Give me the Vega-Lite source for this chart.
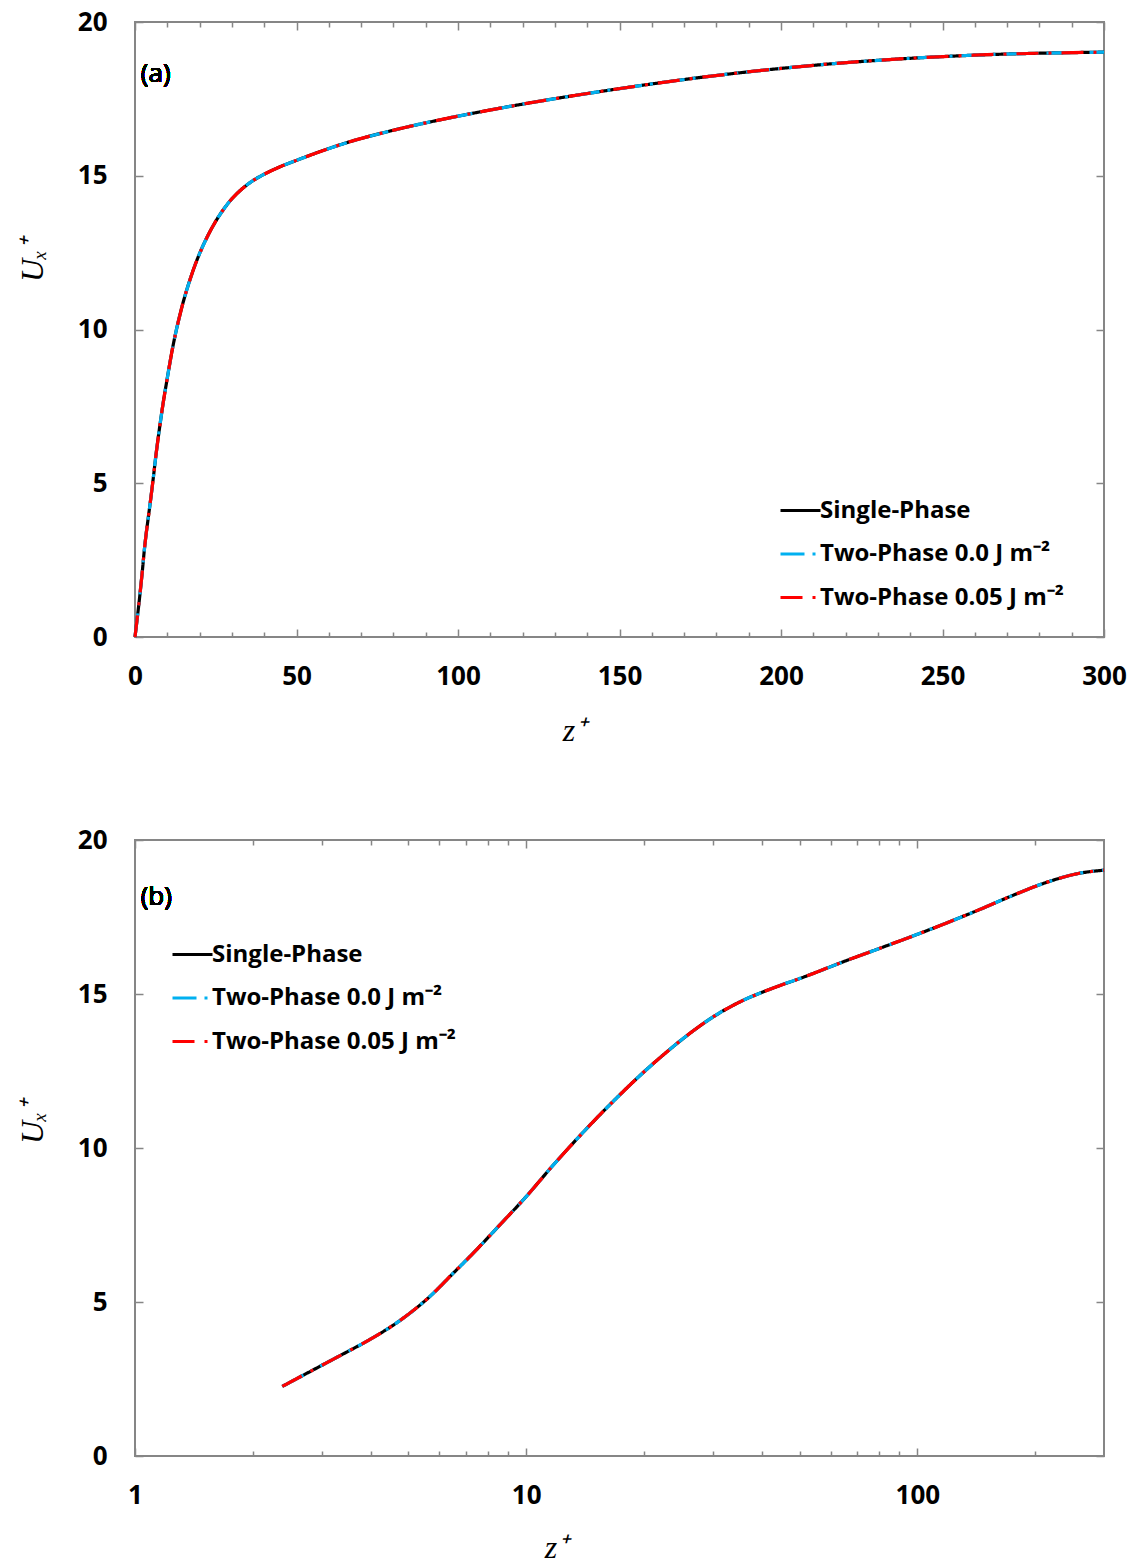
{
  "$schema": "https://vega.github.io/schema/vega-lite/v6.json",
  "background": "white",
  "padding": {"left": 15, "top": 8, "right": 0, "bottom": 0},
  "spacing": 79,
  "resolve": {
    "scale": {"color": "independent", "strokeDash": "independent"},
    "legend": {"color": "independent", "strokeDash": "independent"}
  },
  "config": {
    "view": {"stroke": "#868686", "strokeWidth": 2},
    "axis": {
      "domain": false, "grid": false, "labelFlush": false,
      "tickColor": "#868686", "tickWidth": 1.5,
      "labelFont": "Open Sans", "labelFontWeight": "bold", "labelFontSize": 26, "labelColor": "#000000",
      "titleFont": "Liberation Serif", "titleFontStyle": "italic", "titleFontWeight": "normal", "titleFontSize": 32, "titleColor": "#000000"
    },
    "legend": {
      "labelFont": "Open Sans", "labelFontWeight": "bold", "labelFontSize": 24, "labelColor": "#000000",
      "symbolType": "stroke", "symbolSize": 1600, "symbolStrokeWidth": 3, "rowPadding": 9.5, "labelOffset": -2, "labelLimit": 400
    }
  },
  "datasets": {
    "prof": [
      {"s": "Single-Phase", "z": 0, "u": 0},
      {"s": "Single-Phase", "z": 2.38, "u": 2.26},
      {"s": "Single-Phase", "z": 2.84, "u": 2.78},
      {"s": "Single-Phase", "z": 3.46, "u": 3.36},
      {"s": "Single-Phase", "z": 3.97, "u": 3.77},
      {"s": "Single-Phase", "z": 4.83, "u": 4.46},
      {"s": "Single-Phase", "z": 5.65, "u": 5.16},
      {"s": "Single-Phase", "z": 6.48, "u": 5.91},
      {"s": "Single-Phase", "z": 7.43, "u": 6.67},
      {"s": "Single-Phase", "z": 8.53, "u": 7.48},
      {"s": "Single-Phase", "z": 9.98, "u": 8.41},
      {"s": "Single-Phase", "z": 11.68, "u": 9.42},
      {"s": "Single-Phase", "z": 14.2, "u": 10.6},
      {"s": "Single-Phase", "z": 17.3, "u": 11.71},
      {"s": "Single-Phase", "z": 19.8, "u": 12.42},
      {"s": "Single-Phase", "z": 22.3, "u": 13.0},
      {"s": "Single-Phase", "z": 25, "u": 13.52},
      {"s": "Single-Phase", "z": 27.5, "u": 13.92},
      {"s": "Single-Phase", "z": 30, "u": 14.25},
      {"s": "Single-Phase", "z": 33, "u": 14.56},
      {"s": "Single-Phase", "z": 36.5, "u": 14.84},
      {"s": "Single-Phase", "z": 40, "u": 15.05},
      {"s": "Single-Phase", "z": 44.4, "u": 15.27},
      {"s": "Single-Phase", "z": 50, "u": 15.5},
      {"s": "Single-Phase", "z": 54, "u": 15.66},
      {"s": "Single-Phase", "z": 65.7, "u": 16.08},
      {"s": "Single-Phase", "z": 80, "u": 16.48},
      {"s": "Single-Phase", "z": 97.3, "u": 16.88},
      {"s": "Single-Phase", "z": 118.4, "u": 17.3},
      {"s": "Single-Phase", "z": 144.1, "u": 17.74},
      {"s": "Single-Phase", "z": 175.3, "u": 18.2},
      {"s": "Single-Phase", "z": 213.3, "u": 18.62},
      {"s": "Single-Phase", "z": 259.6, "u": 18.92},
      {"s": "Single-Phase", "z": 300, "u": 19.02},
      {"s": "Two-Phase 0.0 J m⁻²", "z": 0, "u": 0},
      {"s": "Two-Phase 0.0 J m⁻²", "z": 2.38, "u": 2.26},
      {"s": "Two-Phase 0.0 J m⁻²", "z": 2.84, "u": 2.78},
      {"s": "Two-Phase 0.0 J m⁻²", "z": 3.46, "u": 3.36},
      {"s": "Two-Phase 0.0 J m⁻²", "z": 3.97, "u": 3.77},
      {"s": "Two-Phase 0.0 J m⁻²", "z": 4.83, "u": 4.46},
      {"s": "Two-Phase 0.0 J m⁻²", "z": 5.65, "u": 5.16},
      {"s": "Two-Phase 0.0 J m⁻²", "z": 6.48, "u": 5.91},
      {"s": "Two-Phase 0.0 J m⁻²", "z": 7.43, "u": 6.67},
      {"s": "Two-Phase 0.0 J m⁻²", "z": 8.53, "u": 7.48},
      {"s": "Two-Phase 0.0 J m⁻²", "z": 9.98, "u": 8.41},
      {"s": "Two-Phase 0.0 J m⁻²", "z": 11.68, "u": 9.42},
      {"s": "Two-Phase 0.0 J m⁻²", "z": 14.2, "u": 10.6},
      {"s": "Two-Phase 0.0 J m⁻²", "z": 17.3, "u": 11.71},
      {"s": "Two-Phase 0.0 J m⁻²", "z": 19.8, "u": 12.42},
      {"s": "Two-Phase 0.0 J m⁻²", "z": 22.3, "u": 13.0},
      {"s": "Two-Phase 0.0 J m⁻²", "z": 25, "u": 13.52},
      {"s": "Two-Phase 0.0 J m⁻²", "z": 27.5, "u": 13.92},
      {"s": "Two-Phase 0.0 J m⁻²", "z": 30, "u": 14.25},
      {"s": "Two-Phase 0.0 J m⁻²", "z": 33, "u": 14.56},
      {"s": "Two-Phase 0.0 J m⁻²", "z": 36.5, "u": 14.84},
      {"s": "Two-Phase 0.0 J m⁻²", "z": 40, "u": 15.05},
      {"s": "Two-Phase 0.0 J m⁻²", "z": 44.4, "u": 15.27},
      {"s": "Two-Phase 0.0 J m⁻²", "z": 50, "u": 15.5},
      {"s": "Two-Phase 0.0 J m⁻²", "z": 54, "u": 15.66},
      {"s": "Two-Phase 0.0 J m⁻²", "z": 65.7, "u": 16.08},
      {"s": "Two-Phase 0.0 J m⁻²", "z": 80, "u": 16.48},
      {"s": "Two-Phase 0.0 J m⁻²", "z": 97.3, "u": 16.88},
      {"s": "Two-Phase 0.0 J m⁻²", "z": 118.4, "u": 17.3},
      {"s": "Two-Phase 0.0 J m⁻²", "z": 144.1, "u": 17.74},
      {"s": "Two-Phase 0.0 J m⁻²", "z": 175.3, "u": 18.2},
      {"s": "Two-Phase 0.0 J m⁻²", "z": 213.3, "u": 18.62},
      {"s": "Two-Phase 0.0 J m⁻²", "z": 259.6, "u": 18.92},
      {"s": "Two-Phase 0.0 J m⁻²", "z": 300, "u": 19.02},
      {"s": "Two-Phase 0.05 J m⁻²", "z": 0, "u": 0},
      {"s": "Two-Phase 0.05 J m⁻²", "z": 2.38, "u": 2.26},
      {"s": "Two-Phase 0.05 J m⁻²", "z": 2.84, "u": 2.78},
      {"s": "Two-Phase 0.05 J m⁻²", "z": 3.46, "u": 3.36},
      {"s": "Two-Phase 0.05 J m⁻²", "z": 3.97, "u": 3.77},
      {"s": "Two-Phase 0.05 J m⁻²", "z": 4.83, "u": 4.46},
      {"s": "Two-Phase 0.05 J m⁻²", "z": 5.65, "u": 5.16},
      {"s": "Two-Phase 0.05 J m⁻²", "z": 6.48, "u": 5.91},
      {"s": "Two-Phase 0.05 J m⁻²", "z": 7.43, "u": 6.67},
      {"s": "Two-Phase 0.05 J m⁻²", "z": 8.53, "u": 7.48},
      {"s": "Two-Phase 0.05 J m⁻²", "z": 9.98, "u": 8.41},
      {"s": "Two-Phase 0.05 J m⁻²", "z": 11.68, "u": 9.42},
      {"s": "Two-Phase 0.05 J m⁻²", "z": 14.2, "u": 10.6},
      {"s": "Two-Phase 0.05 J m⁻²", "z": 17.3, "u": 11.71},
      {"s": "Two-Phase 0.05 J m⁻²", "z": 19.8, "u": 12.42},
      {"s": "Two-Phase 0.05 J m⁻²", "z": 22.3, "u": 13.0},
      {"s": "Two-Phase 0.05 J m⁻²", "z": 25, "u": 13.52},
      {"s": "Two-Phase 0.05 J m⁻²", "z": 27.5, "u": 13.92},
      {"s": "Two-Phase 0.05 J m⁻²", "z": 30, "u": 14.25},
      {"s": "Two-Phase 0.05 J m⁻²", "z": 33, "u": 14.56},
      {"s": "Two-Phase 0.05 J m⁻²", "z": 36.5, "u": 14.84},
      {"s": "Two-Phase 0.05 J m⁻²", "z": 40, "u": 15.05},
      {"s": "Two-Phase 0.05 J m⁻²", "z": 44.4, "u": 15.27},
      {"s": "Two-Phase 0.05 J m⁻²", "z": 50, "u": 15.5},
      {"s": "Two-Phase 0.05 J m⁻²", "z": 54, "u": 15.66},
      {"s": "Two-Phase 0.05 J m⁻²", "z": 65.7, "u": 16.08},
      {"s": "Two-Phase 0.05 J m⁻²", "z": 80, "u": 16.48},
      {"s": "Two-Phase 0.05 J m⁻²", "z": 97.3, "u": 16.88},
      {"s": "Two-Phase 0.05 J m⁻²", "z": 118.4, "u": 17.3},
      {"s": "Two-Phase 0.05 J m⁻²", "z": 144.1, "u": 17.74},
      {"s": "Two-Phase 0.05 J m⁻²", "z": 175.3, "u": 18.2},
      {"s": "Two-Phase 0.05 J m⁻²", "z": 213.3, "u": 18.62},
      {"s": "Two-Phase 0.05 J m⁻²", "z": 259.6, "u": 18.92},
      {"s": "Two-Phase 0.05 J m⁻²", "z": 300, "u": 19.02}
    ]
  },
  "vconcat": [
    {
      "width": 969, "height": 615,
      "data": {"name": "prof"},
      "resolve": {"axis": {"x": "independent", "y": "independent"}},
      "layer": [
        {
          "mark": {"type": "line", "strokeWidth": 3.2, "interpolate": "monotone"},
          "encoding": {
            "x": {"field": "z", "type": "quantitative", "scale": {"domain": [0, 300], "nice": false},
              "axis": {"orient": "bottom", "values": [0, 50, 100, 150, 200, 250, 300], "tickSize": -8, "labelPadding": 34, "title": "z⁺", "titleX": 439, "titleY": 103, "titleBaseline": "alphabetic", "titleAlign": "center"}},
            "y": {"field": "u", "type": "quantitative", "scale": {"domain": [0, 20], "nice": false},
              "axis": {"orient": "left", "values": [0, 5, 10, 15, 20], "tickSize": -8, "labelPadding": 36, "title": "Uₓ⁺", "titleX": -86, "titleY": 238, "titleBaseline": "bottom", "titleAlign": "center", "titleAngle": 270}},
            "color": {"field": "s", "type": "nominal",
              "scale": {"domain": ["Single-Phase", "Two-Phase 0.0 J m⁻²", "Two-Phase 0.05 J m⁻²"], "range": ["#000000", "#00B0F0", "#FF0000"]},
              "legend": {"title": null, "orient": "none", "legendX": 644, "legendY": 467}},
            "strokeDash": {"field": "s", "type": "nominal",
              "scale": {"domain": ["Single-Phase", "Two-Phase 0.0 J m⁻²", "Two-Phase 0.05 J m⁻²"], "range": [[1, 0], [24, 8, 3, 8], [22, 10, 3, 10]]},
              "legend": {"title": null, "orient": "none", "legendX": 644, "legendY": 467}}
          }
        },
        {
          "mark": {"type": "line", "strokeOpacity": 0},
          "encoding": {
            "x": {"field": "z", "type": "quantitative", "axis": {"orient": "bottom", "values": [10, 20, 30, 40, 60, 70, 80, 90, 110, 120, 130, 140, 160, 170, 180, 190, 210, 220, 230, 240, 260, 270, 280, 290], "tickSize": -5, "labels": false, "title": null}},
            "y": {"field": "u", "type": "quantitative", "axis": {"orient": "right", "values": [0, 5, 10, 15, 20], "tickSize": -8, "labels": false, "title": null}}
          }
        },
        {
          "mark": {"type": "line", "strokeOpacity": 0},
          "encoding": {
            "x": {"field": "z", "type": "quantitative", "axis": {"orient": "top", "values": [0, 50, 100, 150, 200, 250, 300], "tickSize": -8, "labels": false, "title": null}},
            "y": {"field": "u", "type": "quantitative", "axis": null}
          }
        },
        {
          "mark": {"type": "line", "strokeOpacity": 0},
          "encoding": {
            "x": {"field": "z", "type": "quantitative", "axis": {"orient": "top", "values": [10, 20, 30, 40, 60, 70, 80, 90, 110, 120, 130, 140, 160, 170, 180, 190, 210, 220, 230, 240, 260, 270, 280, 290], "tickSize": -5, "labels": false, "title": null}},
            "y": {"field": "u", "type": "quantitative", "axis": null}
          }
        },
        {
          "mark": {"type": "text", "text": "(a)", "align": "left", "baseline": "middle", "font": "Open Sans", "fontSize": 26, "fontWeight": "normal", "color": "#000000"},
          "encoding": {
            "x": {"datum": 1.8, "type": "quantitative", "axis": null},
            "y": {"datum": 18.3, "type": "quantitative", "axis": null}
          }
        }
      ]
    },
    {
      "width": 969, "height": 616,
      "data": {"name": "prof"},
      "transform": [{"filter": "datum.z > 0"}],
      "resolve": {"axis": {"x": "independent", "y": "independent"}},
      "layer": [
        {
          "mark": {"type": "line", "strokeWidth": 3.2, "interpolate": "monotone"},
          "encoding": {
            "x": {"field": "z", "type": "quantitative", "scale": {"type": "log", "domain": [1, 300], "nice": false},
              "axis": {"orient": "bottom", "values": [1, 10, 100], "format": "d", "tickSize": -8, "labelPadding": 34, "title": "z⁺", "titleX": 421, "titleY": 101, "titleBaseline": "alphabetic", "titleAlign": "center"}},
            "y": {"field": "u", "type": "quantitative", "scale": {"domain": [0, 20], "nice": false},
              "axis": {"orient": "left", "values": [0, 5, 10, 15, 20], "tickSize": -8, "labelPadding": 36, "title": "Uₓ⁺", "titleX": -86, "titleY": 282, "titleBaseline": "bottom", "titleAlign": "center", "titleAngle": 270}},
            "color": {"field": "s", "type": "nominal",
              "scale": {"domain": ["Single-Phase", "Two-Phase 0.0 J m⁻²", "Two-Phase 0.05 J m⁻²"], "range": ["#000000", "#00B0F0", "#FF0000"]},
              "legend": {"title": null, "orient": "none", "legendX": 36, "legendY": 93}},
            "strokeDash": {"field": "s", "type": "nominal",
              "scale": {"domain": ["Single-Phase", "Two-Phase 0.0 J m⁻²", "Two-Phase 0.05 J m⁻²"], "range": [[1, 0], [24, 8, 3, 8], [22, 10, 3, 10]]},
              "legend": {"title": null, "orient": "none", "legendX": 36, "legendY": 93}}
          }
        },
        {
          "mark": {"type": "line", "strokeOpacity": 0},
          "encoding": {
            "x": {"field": "z", "type": "quantitative", "axis": {"orient": "bottom", "values": [2, 3, 4, 5, 6, 7, 8, 9, 20, 30, 40, 50, 60, 70, 80, 90, 200], "tickSize": -5, "labels": false, "title": null}},
            "y": {"field": "u", "type": "quantitative", "axis": {"orient": "right", "values": [0, 5, 10, 15, 20], "tickSize": -8, "labels": false, "title": null}}
          }
        },
        {
          "mark": {"type": "line", "strokeOpacity": 0},
          "encoding": {
            "x": {"field": "z", "type": "quantitative", "axis": {"orient": "top", "values": [1, 10, 100], "tickSize": -8, "labels": false, "title": null}},
            "y": {"field": "u", "type": "quantitative", "axis": null}
          }
        },
        {
          "mark": {"type": "line", "strokeOpacity": 0},
          "encoding": {
            "x": {"field": "z", "type": "quantitative", "axis": {"orient": "top", "values": [2, 3, 4, 5, 6, 7, 8, 9, 20, 30, 40, 50, 60, 70, 80, 90, 200], "tickSize": -5, "labels": false, "title": null}},
            "y": {"field": "u", "type": "quantitative", "axis": null}
          }
        },
        {
          "mark": {"type": "text", "text": "(b)", "align": "left", "baseline": "middle", "font": "Open Sans", "fontSize": 26, "fontWeight": "normal", "color": "#000000"},
          "encoding": {
            "x": {"datum": 1.034, "type": "quantitative", "axis": null},
            "y": {"datum": 18.15, "type": "quantitative", "axis": null}
          }
        }
      ]
    }
  ]
}
